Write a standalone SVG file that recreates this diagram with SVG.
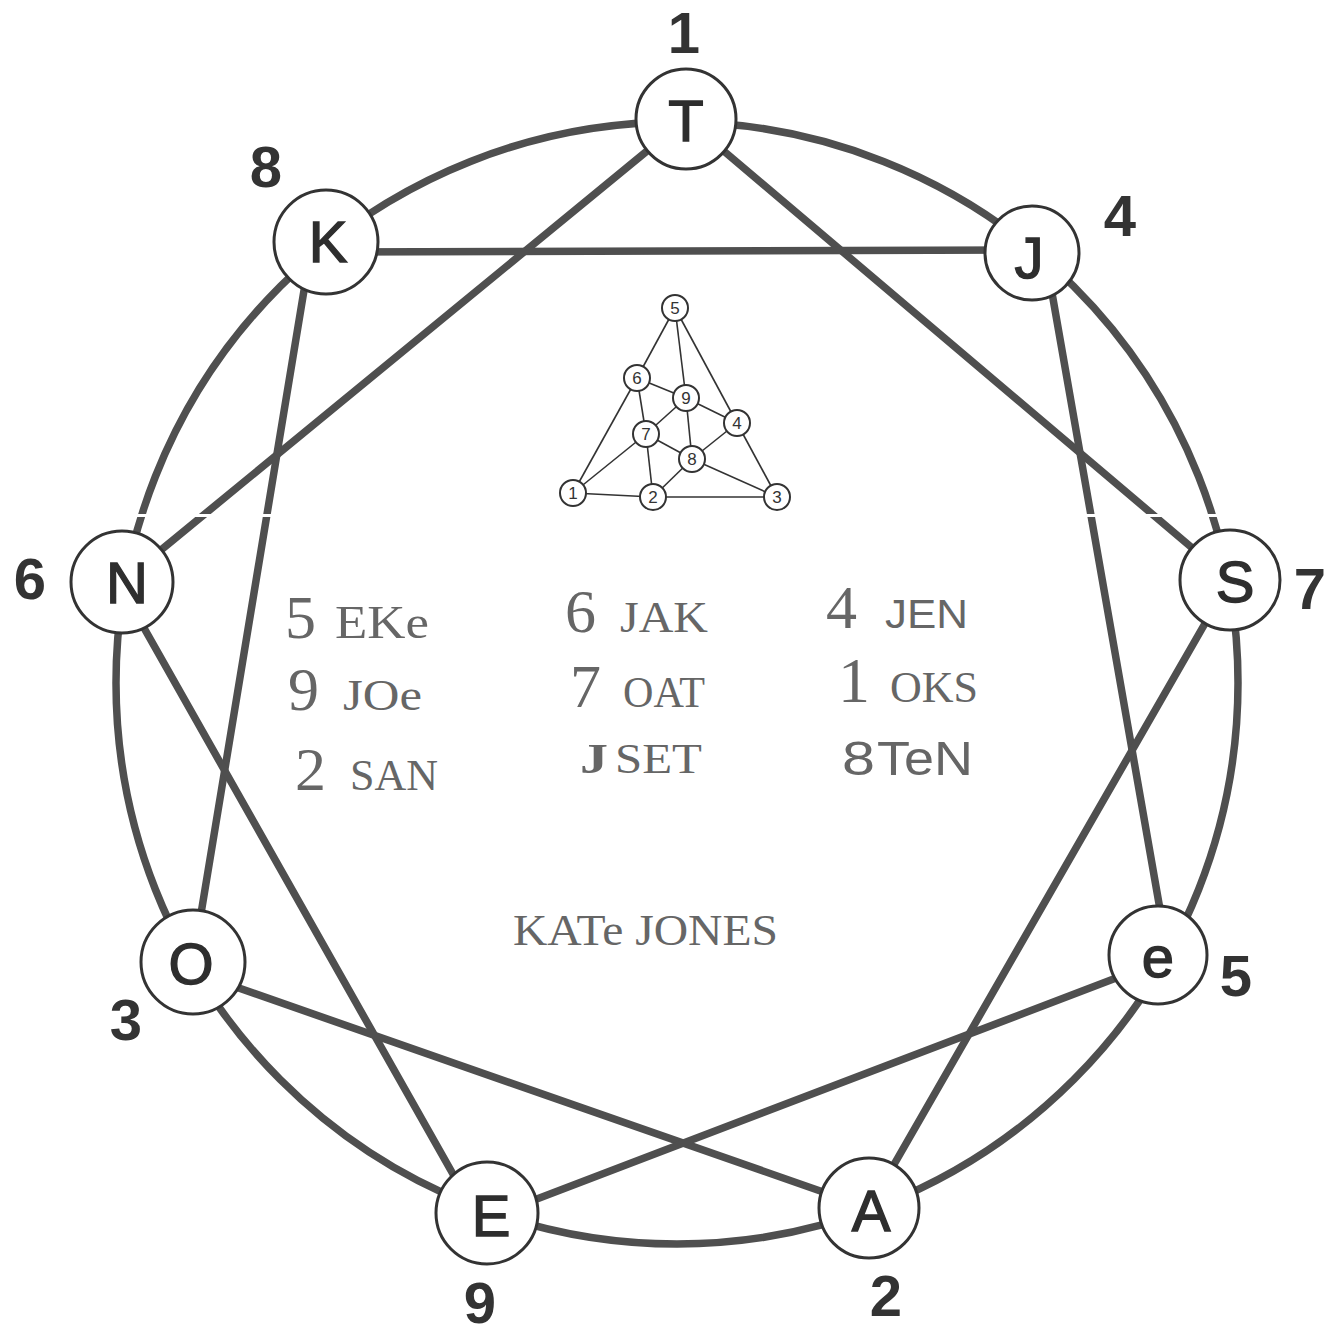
<svg xmlns="http://www.w3.org/2000/svg" width="1342" height="1333" viewBox="0 0 1342 1333">
<style>
.ring{fill:none;stroke:#4f4f4f;stroke-width:7.5}
.chord{stroke:#4f4f4f;stroke-width:7.5;stroke-linecap:round}
.node circle{fill:#fff;stroke:#333;stroke-width:3}
.node text{font-family:"Liberation Sans",Arial,sans-serif;font-size:58px;fill:#2e2e2e;stroke:#2e2e2e;stroke-width:1.4;text-anchor:middle}
.lbl{font-family:"Liberation Sans",Arial,sans-serif;font-size:58px;font-weight:bold;fill:#333;text-anchor:middle}
.tri line{stroke:#333;stroke-width:1.6}
.tri circle{fill:#fff;stroke:#333;stroke-width:2}
.tri text{font-family:"Liberation Sans",Arial,sans-serif;font-size:17px;fill:#333;text-anchor:middle}
.s{font-family:"Liberation Serif","Times New Roman",serif;fill:#666}
.ss{font-family:"Liberation Sans",Arial,sans-serif;fill:#666}
</style>
<rect width="1342" height="1333" fill="#fff"/>
<g id="connectors">
<circle class="ring" cx="677" cy="683" r="561"/>
<line class="chord" x1="686" y1="119" x2="122" y2="582"/>
<line class="chord" x1="686" y1="119" x2="1230" y2="580"/>
<line class="chord" x1="330" y1="252" x2="1030" y2="250"/>
<line class="chord" x1="312" y1="242" x2="193" y2="962"/>
<line class="chord" x1="1045" y1="253" x2="1168" y2="955"/>
<line class="chord" x1="118" y1="582" x2="475" y2="1213"/>
<line class="chord" x1="1230" y1="580" x2="869" y2="1208"/>
<line class="chord" x1="193" y1="972" x2="869" y2="1208"/>
<line class="chord" x1="487" y1="1218" x2="1158" y2="962"/>
</g>
<rect x="108" y="514" width="1140" height="3" fill="#fff"/>
<g id="node-T" class="node"><circle cx="686" cy="119" r="50"/><text x="686" y="141">T</text></g>
<g id="node-J" class="node"><circle cx="1032" cy="253" r="47"/><text x="1029" y="278">J</text></g>
<g id="node-S" class="node"><circle cx="1230" cy="580" r="50"/><text x="1235" y="602">S</text></g>
<g id="node-e" class="node"><circle cx="1158" cy="955" r="49"/><text x="1158" y="977">e</text></g>
<g id="node-A" class="node"><circle cx="869" cy="1208" r="50"/><text x="871" y="1231">A</text></g>
<g id="node-E" class="node"><circle cx="487" cy="1213" r="51"/><text x="491" y="1236">E</text></g>
<g id="node-O" class="node"><circle cx="193" cy="962" r="52"/><text x="191" y="984">O</text></g>
<g id="node-N" class="node"><circle cx="122" cy="582" r="51"/><text x="127" y="603">N</text></g>
<g id="node-K" class="node"><circle cx="326" cy="242" r="52"/><text x="328" y="262">K</text></g>
<g id="labels">
<text class="lbl" x="684" y="53">1</text>
<text class="lbl" x="266" y="187">8</text>
<text class="lbl" x="1120" y="236">4</text>
<text class="lbl" x="30" y="599">6</text>
<text class="lbl" x="1310" y="609">7</text>
<text class="lbl" x="1236" y="996">5</text>
<text class="lbl" x="126" y="1040">3</text>
<text class="lbl" x="480" y="1323" font-size="56">9</text>
<text class="lbl" x="886" y="1316">2</text>
</g>
<g id="triangle" class="tri">
<line x1="675" y1="308" x2="637" y2="378"/>
<line x1="675" y1="308" x2="686" y2="398"/>
<line x1="675" y1="308" x2="737" y2="423"/>
<line x1="637" y1="378" x2="573" y2="493"/>
<line x1="637" y1="378" x2="686" y2="398"/>
<line x1="637" y1="378" x2="646" y2="434"/>
<line x1="686" y1="398" x2="646" y2="434"/>
<line x1="686" y1="398" x2="737" y2="423"/>
<line x1="686" y1="398" x2="692" y2="459"/>
<line x1="646" y1="434" x2="692" y2="459"/>
<line x1="646" y1="434" x2="573" y2="493"/>
<line x1="646" y1="434" x2="653" y2="497"/>
<line x1="692" y1="459" x2="737" y2="423"/>
<line x1="692" y1="459" x2="653" y2="497"/>
<line x1="692" y1="459" x2="777" y2="497"/>
<line x1="737" y1="423" x2="777" y2="497"/>
<line x1="573" y1="493" x2="653" y2="497"/>
<line x1="653" y1="497" x2="777" y2="497"/>
<g id="t5"><circle cx="675" cy="308" r="13"/><text x="675" y="314">5</text></g>
<g id="t6"><circle cx="637" cy="378" r="13"/><text x="637" y="384">6</text></g>
<g id="t9"><circle cx="686" cy="398" r="13"/><text x="686" y="404">9</text></g>
<g id="t4"><circle cx="737" cy="423" r="13"/><text x="737" y="429">4</text></g>
<g id="t7"><circle cx="646" cy="434" r="13"/><text x="646" y="440">7</text></g>
<g id="t8"><circle cx="692" cy="459" r="13"/><text x="692" y="465">8</text></g>
<g id="t1"><circle cx="573" cy="493" r="13"/><text x="573" y="499">1</text></g>
<g id="t2"><circle cx="653" cy="497" r="13"/><text x="653" y="503">2</text></g>
<g id="t3"><circle cx="777" cy="497" r="13"/><text x="777" y="503">3</text></g>
</g>
<g id="words">
<text class="s" x="285" y="638" font-size="62">5</text>
<text class="s" x="335" y="638" font-size="46" textLength="94" lengthAdjust="spacingAndGlyphs">EKe</text>
<text class="s" x="565" y="632" font-size="62">6</text>
<text class="s" x="620" y="632" font-size="45" textLength="88" lengthAdjust="spacingAndGlyphs">JAK</text>
<text class="s" x="826" y="628" font-size="62">4</text>
<text class="ss" x="885" y="628" font-size="40" textLength="83" lengthAdjust="spacingAndGlyphs">JEN</text>
<text class="s" x="288" y="710" font-size="62">9</text>
<text class="s" x="343" y="710" font-size="45" textLength="79" lengthAdjust="spacingAndGlyphs">JOe</text>
<text class="s" x="570" y="707" font-size="62">7</text>
<text class="s" x="623" y="707" font-size="44" textLength="82" lengthAdjust="spacingAndGlyphs">OAT</text>
<text class="s" x="838" y="702" font-size="64">1</text>
<text class="s" x="890" y="702" font-size="44" textLength="88" lengthAdjust="spacingAndGlyphs">OKS</text>
<text class="s" x="295" y="790" font-size="62">2</text>
<text class="s" x="350" y="790" font-size="45" textLength="88" lengthAdjust="spacingAndGlyphs">SAN</text>
<text class="s" x="580" y="773" font-size="42" font-weight="bold" textLength="28" lengthAdjust="spacingAndGlyphs">J</text>
<text class="s" x="615" y="773" font-size="42" textLength="87" lengthAdjust="spacingAndGlyphs">SET</text>
<text class="ss" x="842" y="775" font-size="49" textLength="33" lengthAdjust="spacingAndGlyphs">8</text>
<text class="ss" x="877" y="775" font-size="49" textLength="96" lengthAdjust="spacingAndGlyphs">TeN</text>
<text class="s" x="513" y="945" font-size="45" textLength="265" lengthAdjust="spacingAndGlyphs">KATe JONES</text>
</g>
</svg>
